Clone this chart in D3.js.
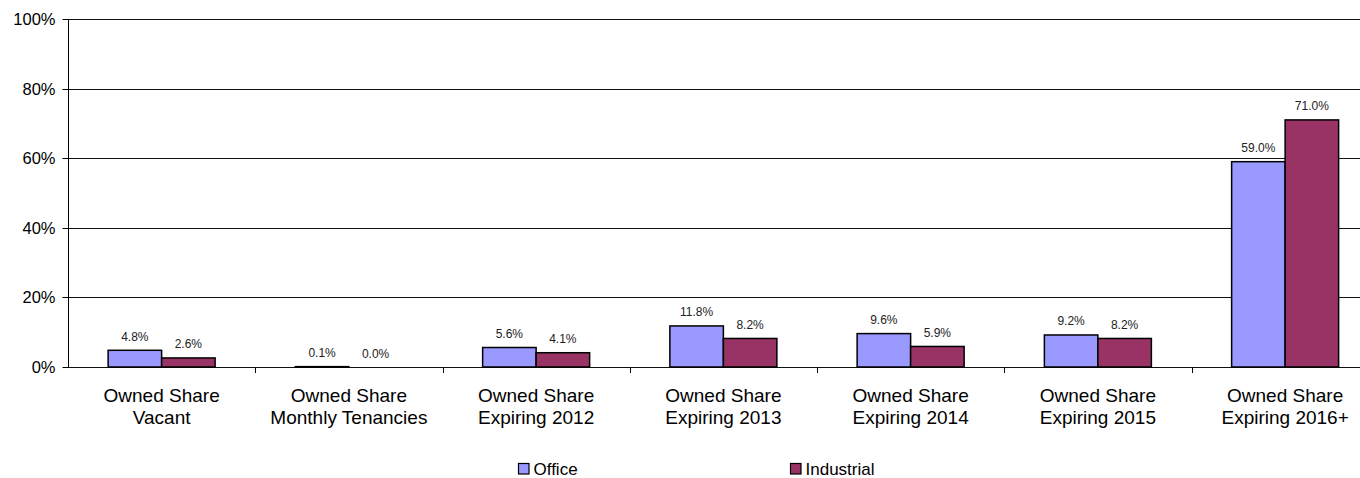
<!DOCTYPE html>
<html><head><meta charset="utf-8">
<script src="https://cdn.jsdelivr.net/npm/d3@7"></script>
<style>body{margin:0;background:#fff}svg{display:block;font-family:"Liberation Sans",Arial,sans-serif}</style>
</head><body>
<svg id="chart" width="1360" height="478"></svg>
<script>
const categories = [
  ["Owned Share","Vacant"],
  ["Owned Share","Monthly Tenancies"],
  ["Owned Share","Expiring 2012"],
  ["Owned Share","Expiring 2013"],
  ["Owned Share","Expiring 2014"],
  ["Owned Share","Expiring 2015"],
  ["Owned Share","Expiring 2016+"]
];
const seriesNames = ["Office","Industrial"];
const office =     [4.8, 0.1, 5.6, 11.8, 9.6, 9.2, 59.0];
const industrial = [2.6, 0.0, 4.1, 8.2, 5.9, 8.2, 71.0];
const yTicks = [0, 20, 40, 60, 80, 100];
const colors = ["#9999FF", "#993366"];

const svg = d3.select("#chart");
const plotLeft = 68, plotTop = 19, plotBottom = 367;
const step = 187.25;
const catIdx = d3.range(categories.length);
const x0 = d3.scaleBand().domain(catIdx).range([plotLeft, plotLeft + step * categories.length]).padding(0);
const x1 = d3.scaleBand().domain(seriesNames).range([0, x0.bandwidth()]).paddingInner(0).paddingOuter(0.75);
const y = d3.scaleLinear().domain([0, 100]).range([plotBottom, plotTop]);

// gridlines
svg.append("g").selectAll("line").data(yTicks).join("line")
  .attr("x1", plotLeft).attr("x2", 1360)
  .attr("y1", d => Math.round(y(d)) + 0.5).attr("y2", d => Math.round(y(d)) + 0.5)
  .attr("stroke", "#111").attr("stroke-width", 1);

// y axis
const yAxis = d3.axisLeft(y).tickValues(yTicks).tickFormat(d => d + "%").tickSize(6).tickPadding(7);
const yg = svg.append("g").attr("transform", `translate(${plotLeft + 0.5},0)`).call(yAxis);
yg.select(".domain").attr("d", `M0,${Math.round(plotTop)}V${plotBottom}`).attr("stroke", "#000");
yg.selectAll(".tick").attr("transform", d => `translate(0,${Math.round(y(d)) + 0.5})`);
yg.selectAll(".tick line").attr("stroke", "#000");
yg.selectAll(".tick text").attr("font-size", 16.5).attr("fill", "#000")
  .attr("font-family", '"Liberation Sans",Arial,sans-serif').attr("dy", "0.35em");

// x axis ticks at boundaries
const bounds = d3.range(categories.length + 1).map(i => plotLeft + step * i);
svg.append("g").selectAll("line").data(bounds.slice(1)).join("line")
  .attr("x1", d => Math.round(d) + 0.5).attr("x2", d => Math.round(d) + 0.5)
  .attr("y1", plotBottom).attr("y2", plotBottom + 6).attr("stroke", "#000");

// bars
const data = catIdx.map(i => ({i, vals: [office[i], industrial[i]]}));
const groups = svg.append("g").selectAll("g").data(data).join("g")
  .attr("transform", d => `translate(${x0(d.i)},0)`);
groups.selectAll("rect").data(d => d.vals.map((v, k) => ({v, k}))).join("rect")
  .attr("x", d => x1(seriesNames[d.k]))
  .attr("width", x1.bandwidth())
  .attr("y", d => y(d.v))
  .attr("height", d => y(0) - y(d.v))
  .attr("fill", d => colors[d.k])
  .attr("stroke", "#000").attr("stroke-width", 1.5);
groups.selectAll("text").data(d => d.vals.map((v, k) => ({v, k}))).join("text")
  .attr("x", d => x1(seriesNames[d.k]) + x1.bandwidth() / 2)
  .attr("y", d => y(d.v) - 9.5)
  .attr("text-anchor", "middle").attr("font-size", 12).attr("fill", "#222")
  .text(d => d.v.toFixed(1) + "%");

// category labels
const cl = svg.append("g").selectAll("text").data(catIdx).join("text")
  .attr("x", i => x0(i) + x0.bandwidth() / 2)
  .attr("text-anchor", "middle").attr("font-size", 19).attr("fill", "#000");
cl.selectAll("tspan").data(i => categories[i].map((t, j) => ({t, j, i}))).join("tspan")
  .attr("x", d => x0(d.i) + x0.bandwidth() / 2)
  .attr("y", d => 401.5 + d.j * 22.3)
  .text(d => d.t);

// legend
const legX = [518, 790];
const lg = svg.append("g").selectAll("g").data(seriesNames).join("g")
  .attr("transform", (d, k) => `translate(${legX[k]},463)`);
lg.append("rect").attr("x", 0.5).attr("y", 0.5).attr("width", 10.5).attr("height", 10.5)
  .attr("fill", (d, k) => colors[k]).attr("stroke", "#000").attr("stroke-width", 1.2);
lg.append("text").attr("x", 15.5).attr("y", 12).attr("font-size", 17).attr("fill", "#000").text(d => d);
</script>
</body></html>
